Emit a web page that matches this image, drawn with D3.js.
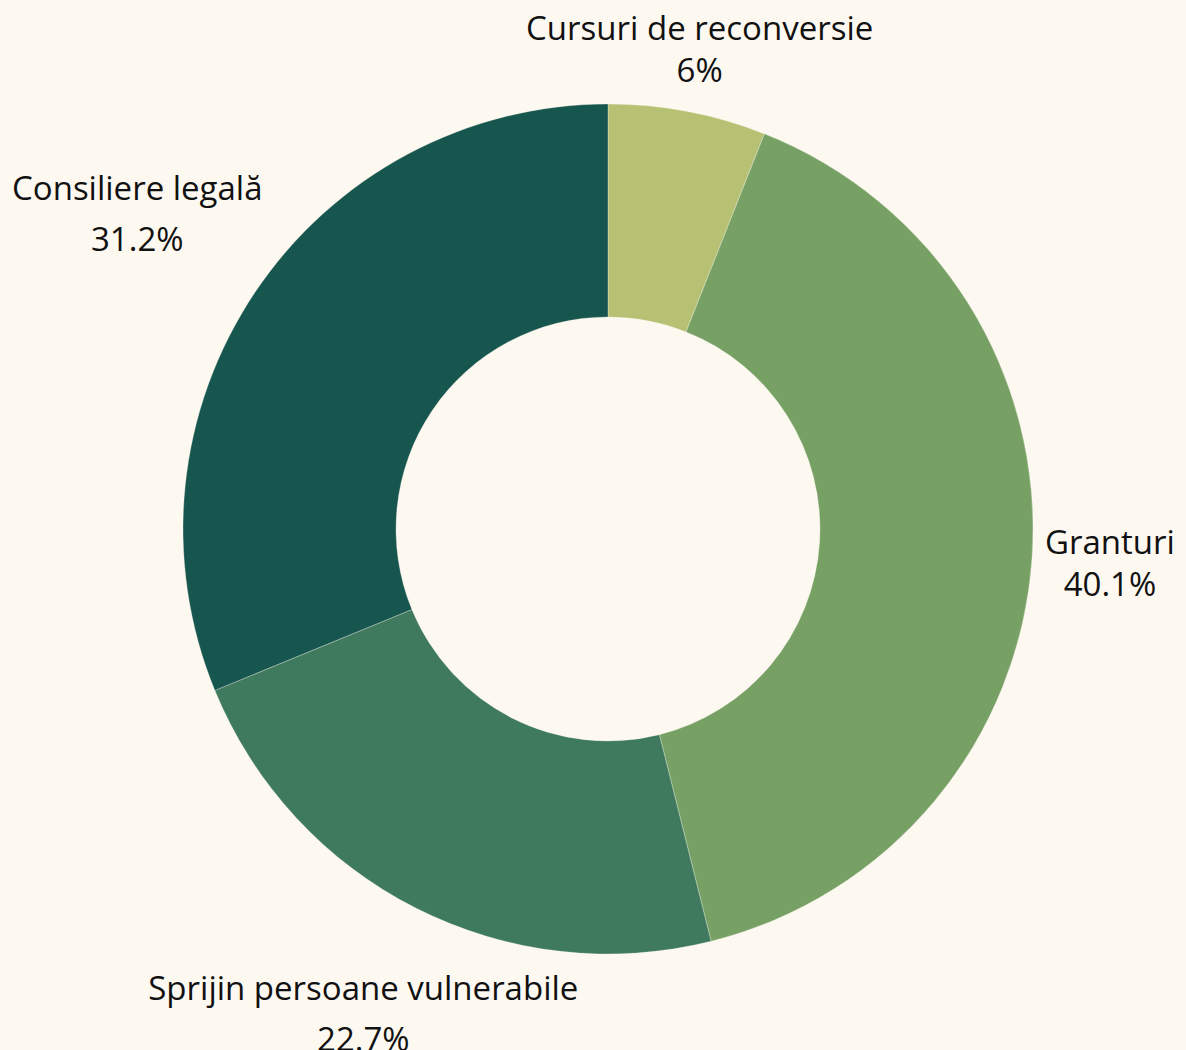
<!DOCTYPE html>
<html>
<head>
<meta charset="utf-8">
<script src="https://cdn.jsdelivr.net/npm/d3@7"></script>
<style>
  html, body { margin: 0; padding: 0; background: #fdf9f1; }
  #donut-chart { width: 1186px; height: 1050px; }
  .slice-label { font-family: "Open Sans", "Noto Sans", sans-serif; font-size: 33px; fill: #111; }
</style>
</head>
<body>
<div id="donut-chart"></div>
<script>
// Chart data
const categories = ["Cursuri de reconversie", "Granturi", "Sprijin persoane vulnerabile", "Consiliere legală"];
const shares = [6, 40.1, 22.7, 31.2];
const shareLabels = ["6%", "40.1%", "22.7%", "31.2%"];
const sliceColors = ["#b7c173", "#77a065", "#3f7a5f", "#17564e"];

(function () {
  const width = 1186;
  const height = 1050;
  const cx = 608, cy = 529;
  const outerRadius = 425;
  const innerRadius = 212;
  const labelGap = 12; // distance from ring to nearest edge of the label box

  const data = categories.map((c, i) => ({ name: c, value: shares[i], label: shareLabels[i], color: sliceColors[i] }));

  const svg = d3.select("#donut-chart")
    .append("svg")
    .attr("width", width)
    .attr("height", height);

  svg.append("rect").attr("width", width).attr("height", height).attr("fill", "#fdf9f1");

  const g = svg.append("g").attr("transform", `translate(${cx},${cy})`);

  const pie = d3.pie().sort(null).value((d) => d.value);
  const arc = d3.arc().innerRadius(innerRadius).outerRadius(outerRadius);
  const arcs = pie(data);

  g.selectAll("path.slice")
    .data(arcs)
    .join("path")
    .attr("class", "slice")
    .attr("d", arc)
    .attr("fill", (d) => d.data.color)
    .attr("stroke", "#fdf9f1")
    .attr("stroke-opacity", 0.5)
    .attr("stroke-width", 0.6);

  // Labels: two lines, pushed out along the mid angle until the box clears the ring
  arcs.forEach((a) => {
    const mid = (a.startAngle + a.endAngle) / 2;
    const dx = Math.sin(mid), dy = -Math.cos(mid);
    const lineGap = dx < 0 ? 51 : 42;

    const label = g.append("g");
    const t = label.append("text").attr("class", "slice-label").attr("text-anchor", "middle");
    t.append("tspan").attr("x", 0).attr("y", 0).text(a.data.name);
    t.append("tspan").attr("x", 0).attr("y", lineGap).text(a.data.label);

    const bb = t.node().getBBox();
    const boxDist = (r) => {
      const ox = dx * r, oy = dy * r;
      const x0 = ox - bb.width / 2, x1 = ox + bb.width / 2;
      const y0 = oy - bb.height / 2, y1 = oy + bb.height / 2;
      const nx = Math.max(x0, Math.min(0, x1));
      const ny = Math.max(y0, Math.min(0, y1));
      return Math.hypot(nx, ny);
    };
    let lo = 0, hi = 1200;
    for (let k = 0; k < 40; k++) {
      const m = (lo + hi) / 2;
      if (boxDist(m) < outerRadius + labelGap) lo = m; else hi = m;
    }
    const bx = dx * hi - (bb.x + bb.width / 2);
    const by = dy * hi - (bb.y + bb.height / 2);
    label.attr("transform", `translate(${bx},${by})`);
  });
})();
</script>
</body>
</html>
